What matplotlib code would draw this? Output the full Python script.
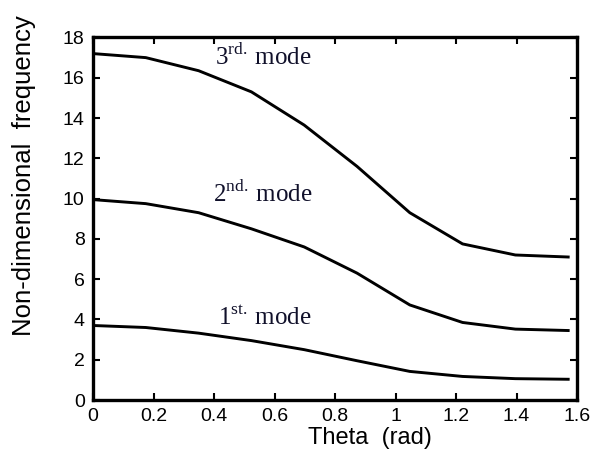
import matplotlib
matplotlib.use('Agg')
import matplotlib.pyplot as plt

# theta values in radians (0 to 90 degrees, every 10 degrees)
theta = [0, 0.1745, 0.3491, 0.5236, 0.6981, 0.8727, 1.0472, 1.2217, 1.3963, 1.5708]
mode1 = [3.70, 3.60, 3.32, 2.95, 2.50, 1.95, 1.42, 1.17, 1.06, 1.03]
mode2 = [9.95, 9.75, 9.30, 8.50, 7.60, 6.30, 4.72, 3.85, 3.52, 3.45]
mode3 = [17.20, 17.00, 16.35, 15.30, 13.65, 11.60, 9.30, 7.75, 7.20, 7.10]

xticks = [0, 0.2, 0.4, 0.6, 0.8, 1.0, 1.2, 1.4, 1.6]
xtick_labels = ['0', '0.2', '0.4', '0.6', '0.8', '1', '1.2', '1.4', '1.6']
yticks = [0, 2, 4, 6, 8, 10, 12, 14, 16, 18]

plt.rcParams['font.family'] = 'Liberation Sans'
plt.rcParams['mathtext.fontset'] = 'custom'
plt.rcParams['mathtext.rm'] = 'Liberation Serif'

fig = plt.figure(figsize=(6.02, 4.61), dpi=100)
ax = fig.add_axes([0.1545, 0.1323, 0.804, 0.7864])

for vals in (mode1, mode2, mode3):
    ax.plot(theta, vals, color='black', linewidth=2.1, solid_joinstyle='round')

ax.set_xlim(0, 1.6)
ax.set_ylim(0, 18)
ax.set_xticks(xticks)
ax.set_xticklabels(xtick_labels)
ax.set_yticks(yticks)
ax.tick_params(direction='in', length=5, width=1.5, top=True, right=True,
               labelsize=14, pad=6)
for s in ax.spines.values():
    s.set_linewidth(2.4)

ax.set_xlabel('Theta  (rad)', fontsize=17)
ax.xaxis.set_label_coords(0.572, -0.075)
ax.set_ylabel('Non-dimensional  frequency', fontsize=18.5)
ax.yaxis.set_label_coords(-0.118, 0.62)

# mode labels, with superscript ordinals
label_font = dict(fontsize=18, family='Liberation Serif', color='#10102a', va='baseline')
ax.text(0.403, 16.63, r'3$^{\mathrm{rd.}}\,$mode', **label_font)
ax.text(0.397, 9.85, r'2$^{\mathrm{nd.}}\,$mode', **label_font)
ax.text(0.413, 3.72, r'1$^{\mathrm{st.}}\,$mode', **label_font)

plt.savefig('out.png', dpi=100)
plt.close()
